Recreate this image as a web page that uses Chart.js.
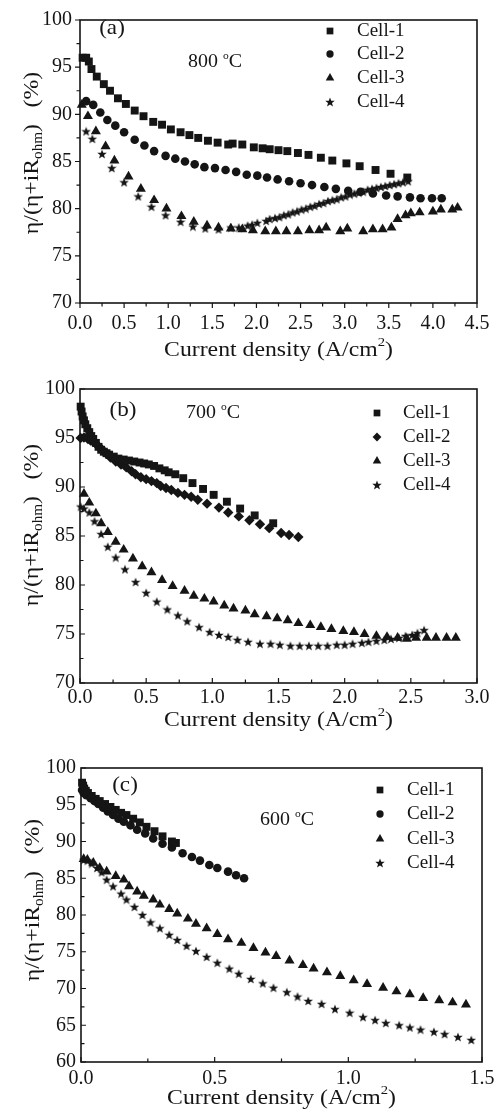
<!DOCTYPE html>
<html>
<head>
<meta charset="utf-8">
<script src="https://cdn.jsdelivr.net/npm/chart.js@4.4.1/dist/chart.umd.min.js"></script>
<style>
  body { margin: 0; background: #fff; }
  canvas { position: absolute; left: 0; }
</style>
</head>
<body>
<canvas id="c800" width="501" height="370" style="top:0"></canvas>
<canvas id="c700" width="501" height="370" style="top:370px"></canvas>
<canvas id="c600" width="501" height="374" style="top:740px"></canvas>
<script>
// eta/(eta+iR_ohm) vs current density, three temperatures, four cells

const cellLabels = ["Cell-1", "Cell-2", "Cell-3", "Cell-4"];

// 800 °C
const cell1At800 = [[0.03,96.0],[0.07,96.0],[0.10,95.6],[0.13,94.8],[0.19,94.0],[0.27,93.2],[0.34,92.5],[0.43,91.7],[0.52,91.1],[0.62,90.4],[0.72,89.8],[0.83,89.2],[0.93,88.9],[1.03,88.4],[1.14,88.1],[1.24,87.8],[1.34,87.5],[1.45,87.2],[1.56,87.0],[1.68,86.8],[1.73,86.9],[1.84,86.8],[1.97,86.5],[2.07,86.4],[2.15,86.3],[2.25,86.2],[2.35,86.1],[2.47,85.9],[2.59,85.7],[2.73,85.4],[2.86,85.1],[3.02,84.8],[3.17,84.5],[3.35,84.1],[3.52,83.7],[3.71,83.3]];
const cell2At800 = [[0.07,91.4],[0.15,91.0],[0.23,90.2],[0.31,89.4],[0.40,88.8],[0.50,88.1],[0.62,87.3],[0.73,86.7],[0.84,86.1],[0.97,85.6],[1.08,85.3],[1.19,85.0],[1.30,84.7],[1.41,84.4],[1.53,84.3],[1.65,84.1],[1.77,83.9],[1.89,83.6],[2.01,83.5],[2.12,83.3],[2.24,83.1],[2.37,82.9],[2.50,82.7],[2.63,82.5],[2.77,82.3],[2.90,82.1],[3.04,81.9],[3.18,81.8],[3.32,81.6],[3.47,81.4],[3.60,81.3],[3.74,81.2],[3.86,81.1],[3.99,81.1],[4.10,81.1]];
const cell3At800 = [[0.02,91.0],[0.09,89.8],[0.18,88.2],[0.29,86.6],[0.39,85.1],[0.55,83.4],[0.69,82.1],[0.84,80.9],[0.98,80.0],[1.15,79.2],[1.29,78.6],[1.44,78.2],[1.57,78.0],[1.71,77.9],[1.84,77.8],[1.96,77.7],[2.10,77.6],[2.22,77.6],[2.34,77.6],[2.47,77.6],[2.60,77.7],[2.71,77.7],[2.79,78.0],[2.95,77.6],[3.03,77.9],[3.21,77.6],[3.32,77.8],[3.43,77.8],[3.53,78.0],[3.60,78.9],[3.69,79.3],[3.75,79.5],[3.85,79.6],[4.00,79.7],[4.09,79.9],[4.22,79.9],[4.28,80.1]];
const cell4At800 = [[0.07,88.2],[0.14,87.4],[0.25,85.8],[0.36,84.3],[0.50,82.8],[0.66,81.3],[0.81,80.2],[0.97,79.3],[1.14,78.6],[1.28,78.1],[1.42,77.9],[1.57,77.8],[1.71,78.0],[1.80,78.0],[1.90,78.2],[1.95,78.3],[2.01,78.5],[2.11,78.7],[2.15,78.9],[2.21,79.0],[2.26,79.1],[2.31,79.3],[2.36,79.4],[2.41,79.6],[2.46,79.7],[2.51,79.9],[2.56,80.0],[2.61,80.2],[2.66,80.3],[2.71,80.5],[2.76,80.6],[2.81,80.8],[2.86,80.9],[2.91,81.0],[2.96,81.2],[3.01,81.3],[3.06,81.5],[3.11,81.6],[3.16,81.7],[3.21,81.8],[3.26,82.0],[3.31,82.1],[3.36,82.2],[3.41,82.3],[3.46,82.4],[3.51,82.5],[3.56,82.6],[3.61,82.7],[3.66,82.8],[3.72,82.9]];

// 700 °C
const cell1At700 = [[0.005,98.2],[0.012,97.7],[0.02,97.2],[0.03,96.8],[0.04,96.4],[0.055,96.0],[0.07,95.6],[0.085,95.2],[0.10,94.9],[0.12,94.5],[0.14,94.1],[0.16,93.8],[0.18,93.6],[0.20,93.45],[0.22,93.3],[0.255,93.1],[0.29,92.9],[0.33,92.8],[0.37,92.7],[0.41,92.6],[0.45,92.5],[0.485,92.4],[0.52,92.3],[0.56,92.15],[0.60,91.9],[0.64,91.7],[0.67,91.5],[0.72,91.3],[0.78,90.9],[0.85,90.4],[0.93,89.8],[1.01,89.2],[1.11,88.5],[1.21,87.8],[1.32,87.1],[1.46,86.3]];
const cell2At700 = [[0.005,95.0],[0.03,95.05],[0.06,94.9],[0.08,94.75],[0.10,94.6],[0.12,94.4],[0.14,94.15],[0.16,93.9],[0.18,93.65],[0.20,93.4],[0.23,93.0],[0.27,92.6],[0.31,92.3],[0.35,92.0],[0.39,91.6],[0.42,91.3],[0.46,91.0],[0.50,90.8],[0.54,90.6],[0.58,90.4],[0.61,90.1],[0.65,89.9],[0.69,89.7],[0.74,89.4],[0.79,89.2],[0.84,89.0],[0.89,88.7],[0.96,88.3],[1.05,87.9],[1.12,87.4],[1.20,87.0],[1.28,86.6],[1.36,86.2],[1.43,85.8],[1.52,85.3],[1.58,85.1],[1.65,84.9]];
const cell3At700 = [[0.03,89.3],[0.07,88.4],[0.12,87.3],[0.16,86.3],[0.21,85.4],[0.27,84.4],[0.33,83.6],[0.40,82.7],[0.47,81.9],[0.54,81.3],[0.62,80.5],[0.70,79.9],[0.79,79.4],[0.86,78.9],[0.94,78.6],[1.01,78.3],[1.09,77.9],[1.16,77.6],[1.25,77.4],[1.32,77.0],[1.41,76.8],[1.49,76.6],[1.57,76.4],[1.65,76.1],[1.74,75.9],[1.82,75.7],[1.90,75.5],[1.99,75.3],[2.07,75.2],[2.15,75.0],[2.24,74.8],[2.32,74.7],[2.40,74.6],[2.47,74.5],[2.54,74.6],[2.62,74.6],[2.69,74.6],[2.77,74.6],[2.84,74.6]];
const cell4At700 = [[0.005,88.0],[0.03,87.8],[0.07,87.4],[0.11,86.5],[0.16,85.2],[0.21,83.9],[0.27,82.8],[0.34,81.6],[0.42,80.3],[0.50,79.2],[0.58,78.3],[0.66,77.5],[0.74,76.9],[0.81,76.3],[0.90,75.7],[0.98,75.2],[1.05,74.9],[1.12,74.7],[1.19,74.4],[1.27,74.2],[1.36,74.0],[1.44,74.0],[1.51,73.9],[1.59,73.8],[1.66,73.8],[1.73,73.8],[1.80,73.8],[1.87,73.8],[1.94,73.9],[2.00,73.9],[2.06,74.0],[2.13,74.1],[2.18,74.2],[2.24,74.3],[2.30,74.4],[2.35,74.5],[2.41,74.6],[2.46,74.8],[2.51,74.9],[2.55,75.1],[2.60,75.4]];

// 600 °C
const cell1At600 = [[0.004,98.0],[0.008,97.6],[0.012,97.2],[0.018,96.9],[0.026,96.6],[0.04,96.2],[0.055,95.8],[0.07,95.5],[0.09,95.1],[0.11,94.7],[0.13,94.3],[0.15,93.9],[0.17,93.6],[0.195,93.1],[0.22,92.6],[0.245,92.0],[0.275,91.4],[0.305,90.7],[0.34,90.0],[0.355,89.8]];
const cell2At600 = [[0.004,97.0],[0.01,96.6],[0.02,96.3],[0.036,95.9],[0.05,95.5],[0.065,95.1],[0.083,94.6],[0.10,94.1],[0.12,93.6],[0.14,93.1],[0.16,92.7],[0.185,92.2],[0.21,91.6],[0.24,91.1],[0.27,90.4],[0.305,89.7],[0.34,89.2],[0.38,88.4],[0.415,87.9],[0.445,87.4],[0.48,86.8],[0.51,86.4],[0.55,85.9],[0.58,85.4],[0.61,85.0]];
const cell3At600 = [[0.01,87.6],[0.024,87.5],[0.046,87.1],[0.07,86.4],[0.096,85.9],[0.13,85.3],[0.16,84.8],[0.18,83.9],[0.21,83.2],[0.235,82.6],[0.27,82.1],[0.295,81.4],[0.33,80.8],[0.36,80.2],[0.40,79.5],[0.43,78.8],[0.47,78.2],[0.51,77.4],[0.55,76.7],[0.60,76.2],[0.645,75.5],[0.69,74.9],[0.73,74.4],[0.78,73.8],[0.83,73.2],[0.87,72.7],[0.92,72.2],[0.97,71.7],[1.02,71.1],[1.07,70.6],[1.13,70.1],[1.18,69.6],[1.23,69.2],[1.28,68.7],[1.34,68.4],[1.39,68.1],[1.44,67.8]];
const cell4At600 = [[0.01,87.5],[0.024,87.4],[0.04,87.0],[0.06,86.4],[0.077,85.8],[0.096,84.8],[0.12,83.9],[0.15,82.9],[0.17,82.1],[0.20,81.1],[0.23,80.0],[0.26,79.0],[0.295,78.2],[0.33,77.3],[0.36,76.6],[0.395,75.8],[0.43,75.1],[0.47,74.3],[0.51,73.5],[0.555,72.7],[0.59,72.0],[0.635,71.3],[0.68,70.7],[0.72,70.1],[0.77,69.5],[0.81,68.9],[0.85,68.3],[0.90,67.9],[0.95,67.2],[1.005,66.7],[1.055,66.1],[1.10,65.7],[1.14,65.3],[1.19,65.0],[1.23,64.7],[1.27,64.4],[1.32,64.1],[1.36,63.8],[1.41,63.4],[1.46,63.0]];

const FONT = '"Liberation Serif", "Times New Roman", serif';
const INK = "#151515";

// filled five point star, Chart.js' own "star" is only strokes
function makeStar(size) {
  const c = document.createElement("canvas");
  c.width = size; c.height = size;
  const g = c.getContext("2d");
  const cx = size / 2, cy = size / 2 + 0.4, ro = size / 2, ri = ro * 0.42;
  g.beginPath();
  for (let i = 0; i < 10; i++) {
    const r = i % 2 ? ri : ro;
    const a = -Math.PI / 2 + i * Math.PI / 5;
    g.lineTo(cx + r * Math.cos(a), cy + r * Math.sin(a));
  }
  g.closePath();
  g.fillStyle = INK;
  g.fill();
  return c;
}
const starImg = makeStar(10);

// draw a run of [text, sizePx, baselineShift] pieces centred at (0,0) of the current transform
function drawRuns(ctx, runs, stretch) {
  let total = 0;
  runs.forEach(r => { ctx.font = r[1] + "px " + FONT; r.w = ctx.measureText(r[0]).width; total += r.w; });
  if (stretch) ctx.scale(stretch, 1);
  let x = -total / 2;
  runs.forEach(r => {
    ctx.font = r[1] + "px " + FONT;
    ctx.fillText(r[0], x, r[2]);
    x += r.w;
  });
}

const panelDeco = {
  id: "panelDeco",
  afterDraw(chart, args, o) {
    const { ctx, chartArea: a, scales: { x, y } } = chart;
    ctx.save();
    ctx.strokeStyle = INK;
    ctx.fillStyle = INK;

    // ticks, major from the scales plus a minor one halfway
    const dir = o.tickOut ? 1 : -1;
    ctx.lineWidth = 1.2;
    ctx.beginPath();
    const xt = x.ticks.map(t => t.value);
    xt.forEach((v, i) => {
      const px = x.getPixelForValue(v);
      ctx.moveTo(px, a.bottom); ctx.lineTo(px, a.bottom + dir * 5);
      if (i < xt.length - 1) {
        const mx = x.getPixelForValue((v + xt[i + 1]) / 2);
        ctx.moveTo(mx, a.bottom); ctx.lineTo(mx, a.bottom + dir * 3.5);
      }
    });
    const yt = y.ticks.map(t => t.value);
    yt.forEach((v, i) => {
      const py = y.getPixelForValue(v);
      ctx.moveTo(a.left, py); ctx.lineTo(a.left - dir * 5, py);
      if (i < yt.length - 1) {
        const my = y.getPixelForValue((v + yt[i + 1]) / 2);
        ctx.moveTo(a.left, my); ctx.lineTo(a.left - dir * 3.5, my);
      }
    });
    ctx.stroke();

    // frame
    ctx.lineWidth = 1.6;
    ctx.strokeRect(a.left, a.top, a.right - a.left, a.bottom - a.top);

    ctx.textBaseline = "middle";
    ctx.textAlign = "left";

    // panel letter and temperature
    ctx.save();
    ctx.translate(o.letterPos[0], o.letterPos[1]);
    drawRuns(ctx, [[o.letter, 21, 0]], 1.1);
    ctx.restore();
    ctx.save();
    ctx.translate(o.tempPos[0], o.tempPos[1]);
    drawRuns(ctx, [[o.temp + " ", 19, 0], ["o", 11, -6], ["C", 19, 0]], 1.05);
    ctx.restore();

    // legend
    chart.data.datasets.forEach((ds, i) => {
      const ly = o.legendY[i];
      if (Chart.helpers && Chart.helpers.drawPoint) {
        Chart.helpers.drawPoint(ctx, { pointStyle: ds.pointStyle, radius: ds.pointRadius * 0.85, rotation: 0, borderWidth: 0 }, o.legendX, ly);
      }
      ctx.font = "19px " + FONT;
      ctx.fillText(ds.label, o.legendTextX, ly);
    });

    // x title
    ctx.save();
    ctx.translate((a.left + a.right) / 2, o.xTitleY);
    drawRuns(ctx, [["Current density (A/cm", 21, 0], ["2", 13, -7], [")", 21, 0]], 1.13);
    ctx.restore();

    // y title, rotated, with subscript
    ctx.save();
    ctx.translate(o.yTitlePos[0], o.yTitlePos[1]);
    ctx.rotate(-Math.PI / 2);
    drawRuns(ctx, [["\u03B7/(\u03B7+iR", 22, 0], ["ohm", 14, 6], [")", 22, 0], ["\u2002\u2009(%)", 22, 0]], 1.08);
    ctx.restore();

    ctx.restore();
  }
};

function makePanel(canvasId, p) {
  const canvas = document.getElementById(canvasId);
  const W = canvas.width, H = canvas.height;
  const styles = [
    { pointStyle: "rect", pointRadius: 5.6 },
    p.cell2Diamond ? { pointStyle: "rectRot", pointRadius: 5.2 } : { pointStyle: "circle", pointRadius: 4.3 },
    { pointStyle: "triangle", pointRadius: 5.8 },
    { pointStyle: starImg, pointRadius: 5 }
  ];
  return new Chart(canvas, {
    type: "scatter",
    data: {
      datasets: p.series.map((pts, i) => ({
        label: cellLabels[i],
        data: pts.map(([x, y]) => ({ x, y })),
        pointStyle: styles[i].pointStyle,
        pointRadius: styles[i].pointRadius,
        pointHoverRadius: styles[i].pointRadius,
        backgroundColor: INK,
        borderWidth: 0,
        clip: false
      }))
    },
    options: {
      responsive: false,
      animation: false,
      events: [],
      layout: { padding: { left: 0, top: p.area.t, right: W - p.area.r, bottom: 0 } },
      plugins: {
        legend: { display: false },
        tooltip: { enabled: false },
        panelDeco: p.deco
      },
      scales: {
        x: {
          type: "linear", min: 0, max: p.xMax,
          grid: { display: false, drawTicks: false }, border: { display: false },
          ticks: {
            stepSize: 0.5, padding: p.xPad, color: INK, maxRotation: 0, autoSkip: false,
            font: { family: FONT, size: 20 },
            callback: v => v.toFixed(1)
          },
          afterFit: s => { s.height = H - p.area.b; }
        },
        y: {
          type: "linear", min: p.yMin, max: 100,
          grid: { display: false, drawTicks: false }, border: { display: false },
          ticks: {
            stepSize: 5, padding: p.yPad, color: INK,
            font: { family: FONT, size: 20 },
            callback: v => String(v)
          },
          afterFit: s => { s.width = p.area.l; }
        }
      }
    },
    plugins: [panelDeco]
  });
}

makePanel("c800", {
  series: [cell1At800, cell2At800, cell3At800, cell4At800],
  area: { l: 80, r: 477, t: 12, b: 303 },
  xMax: 4.5, yMin: 70, xPad: 9, yPad: 8,
  deco: {
    tickOut: true, letter: "(a)", letterPos: [112, 28], temp: "800", tempPos: [215, 62],
    legendX: 330, legendTextX: 357, legendY: [31, 54, 78, 102],
    xTitleY: 350, yTitlePos: [32, 153]
  }
});

makePanel("c700", {
  series: [cell1At700, cell2At700, cell3At700, cell4At700],
  cell2Diamond: true,
  area: { l: 80, r: 477, t: 19, b: 313 },
  xMax: 3.0, yMin: 70, xPad: 3, yPad: 5,
  deco: {
    tickOut: false, letter: "(b)", letterPos: [123, 40], temp: "700", tempPos: [213, 43],
    legendX: 377, legendTextX: 403, legendY: [43, 67, 91, 115],
    xTitleY: 350, yTitlePos: [32, 155]
  }
});

makePanel("c600", {
  series: [cell1At600, cell2At600, cell3At600, cell4At600],
  area: { l: 81, r: 482, t: 28, b: 322 },
  xMax: 1.5, yMin: 60, xPad: 5, yPad: 5,
  deco: {
    tickOut: false, letter: "(c)", letterPos: [125, 45], temp: "600", tempPos: [287, 80],
    legendX: 380, legendTextX: 407, legendY: [50, 74, 99, 123],
    xTitleY: 358, yTitlePos: [33, 160]
  }
});
</script>
</body>
</html>
